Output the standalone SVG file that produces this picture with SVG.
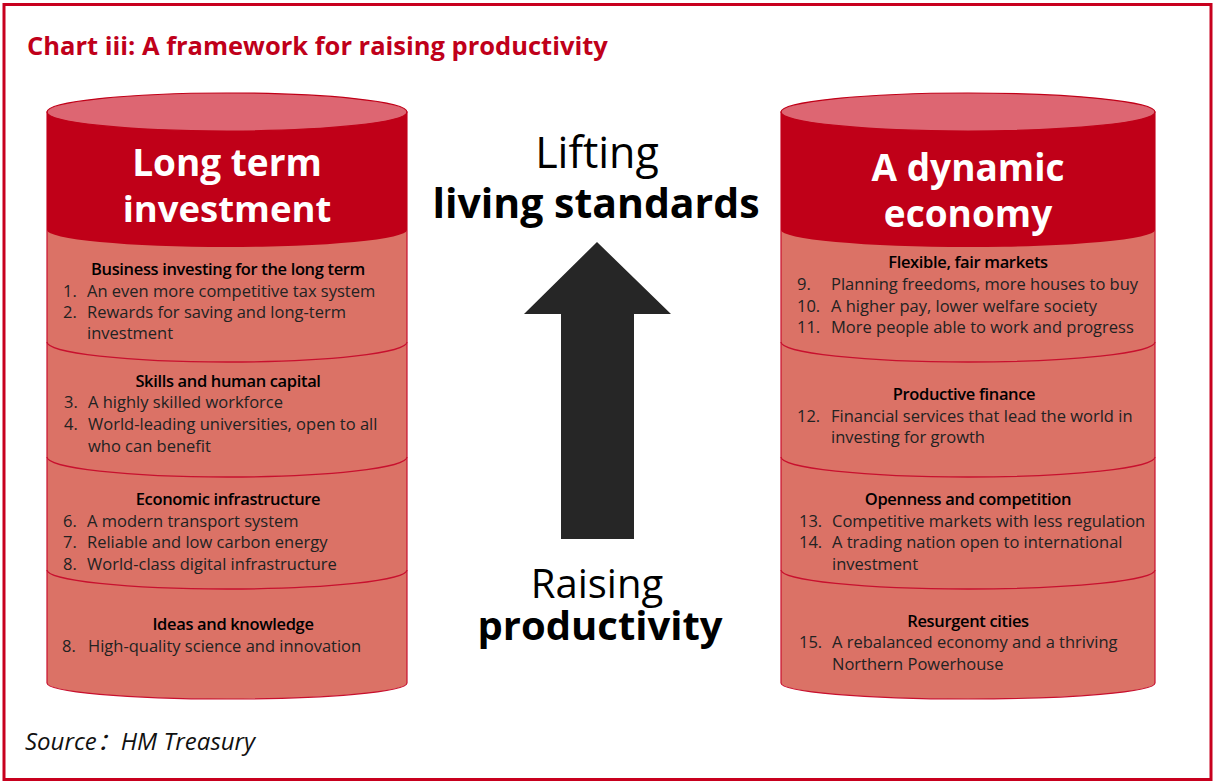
<svg xmlns="http://www.w3.org/2000/svg" width="1213" height="782" viewBox="0 0 1213 782">
<style>
text{font-family:"Open Sans","Noto Sans","Liberation Sans",sans-serif}
.title{font-size:25.5px;font-weight:700;fill:#C0001A}
.head{font-size:37px;font-weight:700;fill:#FFFFFF;text-anchor:middle}
.big{font-size:42px;fill:#000;text-anchor:middle}
.bigb{font-weight:700;fill:#000;text-anchor:middle}
.sh{font-size:16.5px;font-weight:600;fill:#000;text-anchor:middle;letter-spacing:-0.35px}
.it{font-size:16.5px;fill:#222}
.src{font-size:24px;font-style:italic;fill:#111}
.body{fill:#DB7266;stroke:#C8102E;stroke-width:1.2}
.cap{fill:#C00018}
.top{fill:#DD6672;stroke:#C00018;stroke-width:1.2}
.div{fill:none;stroke:#C8102E;stroke-width:1.3}
</style>
<rect x="0" y="0" width="1213" height="782" fill="#fff"/>
<rect x="4" y="4.5" width="1207" height="775" fill="none" stroke="#C8001E" stroke-width="3"/>
<text class="title" x="27" y="55">Chart iii: A framework for raising productivity</text>

<g id="left-cylinder">
<path class="body" d="M47,112 L47,683 A180,16 0 0 0 407,683 L407,112 Z"/>
<path class="cap" d="M47,112 L47,230 A180,17 0 0 0 407,230 L407,112 Z"/>
<ellipse class="top" cx="227" cy="112" rx="180" ry="19"/>
<path class="div" d="M47,342 A180,20 0 0 0 407,342"/>
<path class="div" d="M47,457 A180,20 0 0 0 407,457"/>
<path class="div" d="M47,570 A180,19 0 0 0 407,570"/>
<text class="head" x="227" y="176">Long term</text>
<text class="head" x="227" y="222" style="font-size:36.5px">investment</text>
<text class="sh" x="228" y="275">Business investing for the long term</text>
<text class="it" x="63" y="297">1.</text><text class="it" x="87" y="297">An even more competitive tax system</text>
<text class="it" x="63" y="318">2.</text><text class="it" x="87" y="318">Rewards for saving and long-term</text>
<text class="it" x="87" y="339">investment</text>
<text class="sh" x="228" y="387">Skills and human capital</text>
<text class="it" x="64" y="408">3.</text><text class="it" x="88" y="408">A highly skilled workforce</text>
<text class="it" x="64" y="430">4.</text><text class="it" x="88" y="430">World-leading universities, open to all</text>
<text class="it" x="88" y="452">who can benefit</text>
<text class="sh" x="228" y="505">Economic infrastructure</text>
<text class="it" x="63" y="527">6.</text><text class="it" x="87" y="527">A modern transport system</text>
<text class="it" x="63" y="548">7.</text><text class="it" x="87" y="548">Reliable and low carbon energy</text>
<text class="it" x="63" y="570">8.</text><text class="it" x="87" y="570">World-class digital infrastructure</text>
<text class="sh" x="233" y="630">Ideas and knowledge</text>
<text class="it" x="62" y="652">8.</text><text class="it" x="88" y="652">High-quality science and innovation</text>
</g>

<g id="right-cylinder">
<path class="body" d="M781,112 L781,683 A187,16 0 0 0 1155,683 L1155,112 Z"/>
<path class="cap" d="M781,112 L781,230 A187,17 0 0 0 1155,230 L1155,112 Z"/>
<ellipse class="top" cx="968" cy="112" rx="187" ry="19"/>
<path class="div" d="M781,342 A187,20 0 0 0 1155,342"/>
<path class="div" d="M781,457 A187,20 0 0 0 1155,457"/>
<path class="div" d="M781,570 A187,19 0 0 0 1155,570"/>
<text class="head" x="968" y="181">A dynamic</text>
<text class="head" x="968" y="227">economy</text>
<text class="sh" x="968" y="268">Flexible, fair markets</text>
<text class="it" x="797" y="290">9.</text><text class="it" x="831" y="290">Planning freedoms, more houses to buy</text>
<text class="it" x="797" y="312">10.</text><text class="it" x="831" y="312">A higher pay, lower welfare society</text>
<text class="it" x="797" y="333">11.</text><text class="it" x="831" y="333">More people able to work and progress</text>
<text class="sh" x="964" y="400">Productive finance</text>
<text class="it" x="797" y="422">12.</text><text class="it" x="831" y="422">Financial services that lead the world in</text>
<text class="it" x="831" y="443">investing for growth</text>
<text class="sh" x="968" y="505">Openness and competition</text>
<text class="it" x="799" y="527">13.</text><text class="it" x="832" y="527">Competitive markets with less regulation</text>
<text class="it" x="799" y="548">14.</text><text class="it" x="832" y="548">A trading nation open to international</text>
<text class="it" x="832" y="570">investment</text>
<text class="sh" x="968" y="627">Resurgent cities</text>
<text class="it" x="799" y="648">15.</text><text class="it" x="832" y="648">A rebalanced economy and a thriving</text>
<text class="it" x="832" y="670">Northern Powerhouse</text>
</g>

<g id="connectors">
<path d="M597,242 L671,314 L634,314 L634,539 L561,539 L561,314 L524,314 Z" fill="#262626"/>
</g>

<g id="center-labels">
<text class="big" x="597" y="168" style="font-size:43px">Lifting</text>
<text class="bigb" x="596" y="218" style="font-size:41px">living standards</text>
<text class="big" x="597" y="598" style="font-size:40px">Raising</text>
<text class="bigb" x="600" y="640" style="font-size:40px">productivity</text>
</g>

<text class="src" x="25" y="750">Source<tspan font-family="'Noto Sans CJK SC',sans-serif">：</tspan>HM Treasury</text>
</svg>
